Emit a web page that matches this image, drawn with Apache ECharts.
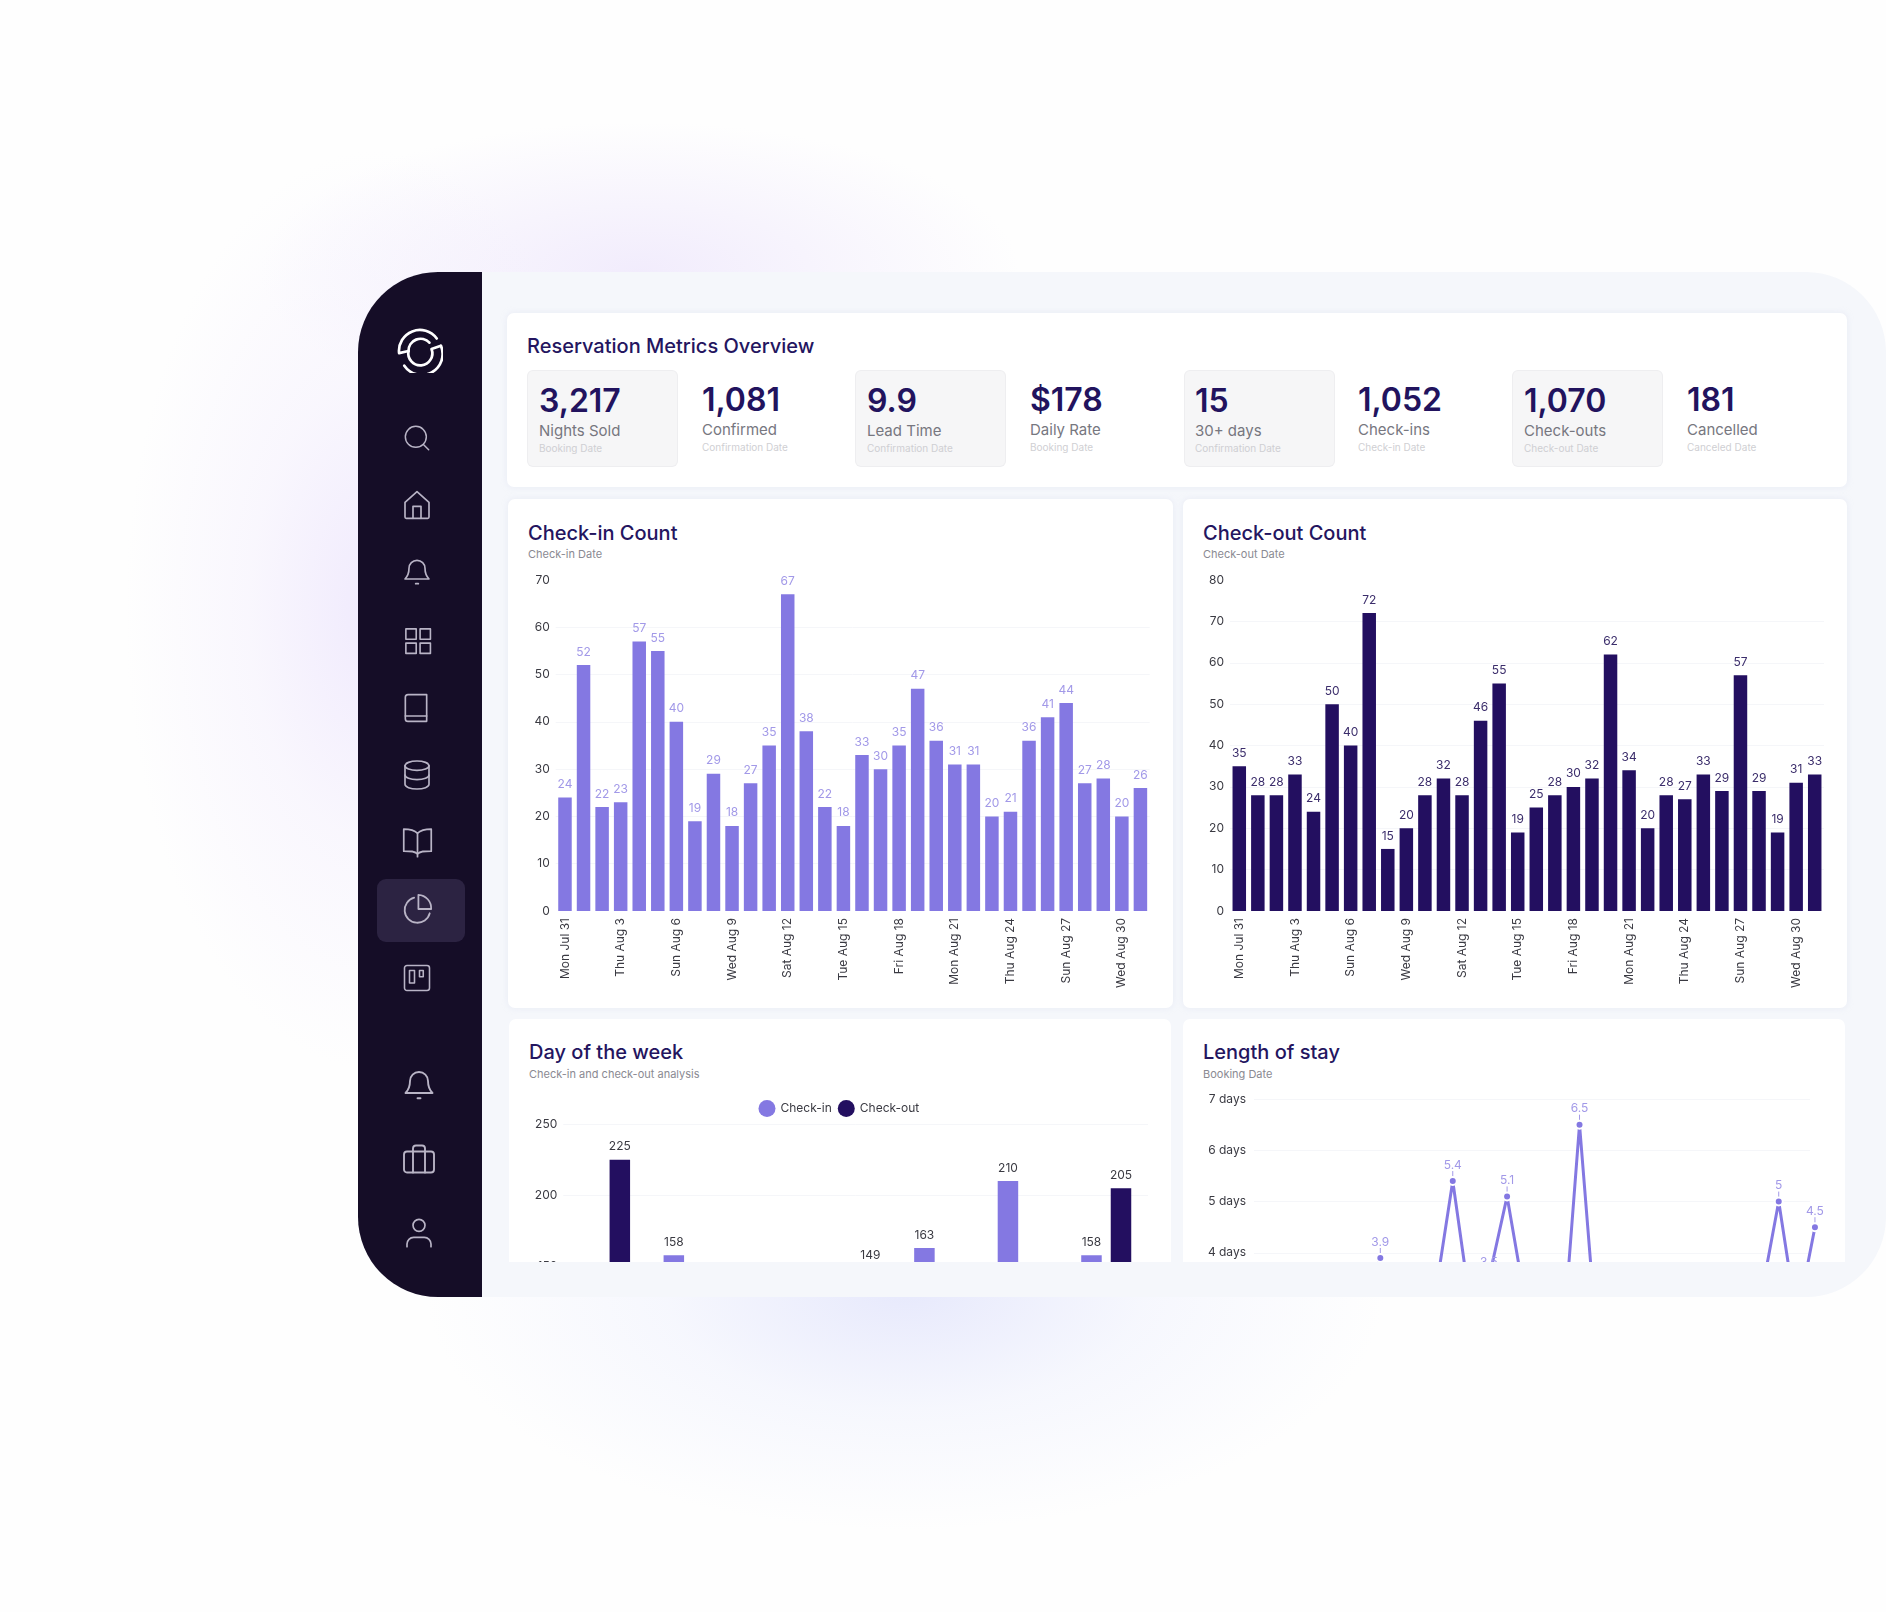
<!DOCTYPE html>
<html lang="en">
<head>
<meta charset="UTF-8">
<title>Reservation Metrics Overview</title>
<script src="https://cdn.jsdelivr.net/npm/echarts@6/dist/echarts.min.js"></script>
<style>
    html, body { margin: 0; padding: 0; }
    body {
        width: 1886px; height: 1612px; position: relative; overflow: hidden;
        font-family: Inter, "Noto Sans", sans-serif;
        background:
            radial-gradient(ellipse 250px 460px at 375px 610px, #f0eafd, rgba(243,238,253,.45) 50%, rgba(243,238,253,0) 100%),
            radial-gradient(ellipse 480px 240px at 905px 1290px, #e7e9fc, rgba(235,238,253,.42) 50%, rgba(235,238,253,0) 100%),
            radial-gradient(ellipse 380px 150px at 640px 272px, rgba(240,234,252,.9), rgba(240,234,252,0) 100%),
            #fefefe;
    }
    .abs { position: absolute; }
    #panel { left: 358px; top: 272px; width: 1528px; height: 1025px; background: #f5f7fb; border-radius: 80px; overflow: hidden; }
    #side { left: 0; top: 0; width: 124px; height: 1026px; background: #150d27; }
    #active { left: 19px; top: 607px; width: 88px; height: 63px; background: #2c2342; border-radius: 9px; }
    .card { background: #fff; border-radius: 7px; box-shadow: 0 0 6px rgba(210,214,235,.35); overflow: hidden; }
    .bottom { border-radius: 7px 7px 0 0; box-shadow: none; }
    .h { color: #241560; font-size: 20px; font-weight: 500; line-height: 24px; white-space: nowrap; }
    .s { color: #8a8a92; font-size: 11px; line-height: 14px; white-space: nowrap; }
    .tile { background: #f6f6f7; border-radius: 5px; box-shadow: 0 0 0 1px #eeeef0; }
    .kv { color: #22135e; font-size: 32px; font-weight: 600; line-height: 38px; white-space: nowrap; }
    .kl { color: #77777f; font-size: 15px; line-height: 18px; white-space: nowrap; }
    .kd { color: #cfcfd3; font-size: 10px; line-height: 12px; white-space: nowrap; }
    svg.ic { position: absolute; fill: none; stroke: #b9b4c6; stroke-width: 1.25; stroke-linecap: round; stroke-linejoin: round; }
</style>
</head>
<body>
<div class="abs" id="panel">
    <div class="abs" id="side"></div>
    <div class="abs" id="active"></div>
</div>
<div id="icons"></div>

<div class="abs card" style="left:507px;top:313px;width:1340px;height:174px"></div>
<div class="abs h" style="left:527px;top:334px">Reservation Metrics Overview</div>
<div id="kpis"></div>

<div class="abs card" style="left:508px;top:499px;width:665px;height:509px"></div>
<div class="abs card" style="left:1183px;top:499px;width:664px;height:509px"></div>
<div class="abs h" style="left:528px;top:521px">Check-in Count</div>
<div class="abs s" style="left:528px;top:547px">Check-in Date</div>
<div class="abs h" style="left:1203px;top:521px">Check-out Count</div>
<div class="abs s" style="left:1203px;top:547px">Check-out Date</div>
<div class="abs" id="chartIn" style="left:508px;top:560px;width:665px;height:448px"></div>
<div class="abs" id="chartOut" style="left:1183px;top:560px;width:664px;height:448px"></div>

<div class="abs card bottom" style="left:509px;top:1019px;width:662px;height:243px">
    <div class="abs" id="chartWeek" style="left:0;top:71px;width:662px;height:500px"></div>
</div>
<div class="abs card bottom" style="left:1183px;top:1019px;width:662px;height:243px">
    <div class="abs" id="chartStay" style="left:0;top:71px;width:662px;height:500px"></div>
</div>
<div class="abs h" style="left:529px;top:1040px">Day of the week</div>
<div class="abs s" style="left:529px;top:1067px">Check-in and check-out analysis</div>
<div class="abs h" style="left:1203px;top:1040px">Length of stay</div>
<div class="abs s" style="left:1203px;top:1067px">Booking Date</div>

<script>
    var kpiValues = ['3,217', '1,081', '9.9', '$178', '15', '1,052', '1,070', '181'];
    var kpiLabels = ['Nights Sold', 'Confirmed', 'Lead Time', 'Daily Rate', '30+ days', 'Check-ins', 'Check-outs', 'Cancelled'];
    var kpiDates = ['Booking Date', 'Confirmation Date', 'Confirmation Date', 'Booking Date', 'Confirmation Date', 'Check-in Date', 'Check-out Date', 'Canceled Date'];

    var days = ['Mon Jul 31', 'Tue Aug 1', 'Wed Aug 2', 'Thu Aug 3', 'Fri Aug 4', 'Sat Aug 5', 'Sun Aug 6', 'Mon Aug 7',
        'Tue Aug 8', 'Wed Aug 9', 'Thu Aug 10', 'Fri Aug 11', 'Sat Aug 12', 'Sun Aug 13', 'Mon Aug 14', 'Tue Aug 15',
        'Wed Aug 16', 'Thu Aug 17', 'Fri Aug 18', 'Sat Aug 19', 'Sun Aug 20', 'Mon Aug 21', 'Tue Aug 22', 'Wed Aug 23',
        'Thu Aug 24', 'Fri Aug 25', 'Sat Aug 26', 'Sun Aug 27', 'Mon Aug 28', 'Tue Aug 29', 'Wed Aug 30', 'Thu Aug 31'];
    var checkIn = [24, 52, 22, 23, 57, 55, 40, 19, 29, 18, 27, 35, 67, 38, 22, 18, 33, 30, 35, 47, 36, 31, 31, 20, 21, 36, 41, 44, 27, 28, 20, 26];
    var checkOut = [35, 28, 28, 33, 24, 50, 40, 72, 15, 20, 28, 32, 28, 46, 55, 19, 25, 28, 30, 32, 62, 34, 20, 28, 27, 33, 29, 57, 29, 19, 31, 33];

    // the lower part of these two charts is cut off by the card, hidden values are estimates
    var weekDays = ['Mon', 'Tue', 'Wed', 'Thu', 'Fri', 'Sat', 'Sun'];
    var weekCheckIn = [120, 158, 125, 118, 163, 210, 158];
    var weekCheckOut = [225, 130, 125, 149, 118, 118, 205];
    var stayValues = [2.8, 2.5, 3.0, 2.6, 2.9, 2.4, 3.1, 3.9, 2.7, 2.9, 3.1, 5.4, 2.9, 3.5, 5.1, 3.05,
        2.6, 1.9, 6.5, 2.1, 2.8, 2.4, 3.0, 2.6, 2.2, 2.9, 2.5, 2.7, 3.1, 5, 2.7, 4.5];

    var LIGHT = '#8478e2', DARK = '#230f60', GRID = '#f5f6f9', TICK = '#3a3a42';

    // KPI tiles
    var kpiX = [539, 702, 867, 1030, 1195, 1358, 1524, 1687];
    var tiles = [[528, 149], [856, 149], [1185, 149], [1513, 149]];
    var html = '';
    tiles.forEach(function (t) {
        html += '<div class="abs tile" style="left:' + t[0] + 'px;top:371px;width:' + t[1] + 'px;height:95px"></div>';
    });
    kpiValues.forEach(function (v, i) {
        var up = i % 2;  // tiles without a box sit one pixel higher
        html += '<div class="abs kv" style="left:' + kpiX[i] + 'px;top:' + (382 - up) + 'px">' + v + '</div>';
        html += '<div class="abs kl" style="left:' + kpiX[i] + 'px;top:' + (422 - up) + 'px">' + kpiLabels[i] + '</div>';
        html += '<div class="abs kd" style="left:' + kpiX[i] + 'px;top:' + (442 - up) + 'px">' + kpiDates[i] + '</div>';
    });
    document.getElementById('kpis').innerHTML = html;

    // sidebar icons, [center x, center y, size, svg body]
    var BELL = '<path d="M3 18h18c-2-2-3-4-3-8a6 6 0 0 0-12 0c0 4-1 6-3 8z"/><path d="M11 21.5h2"/>';
    var icons = [
        [417, 438, 28, '<circle cx="11" cy="11" r="9"/><path d="M17.5 17.5 22 22"/>'],
        [417, 505, 32, '<path d="M12 2 3 10v11a1 1 0 0 0 1 1h16a1 1 0 0 0 1-1V10z"/><path d="M9 22v-9h6v9"/>'],
        [417, 571, 32, BELL],
        [417, 640, 31, '<rect x="3" y="3" width="8" height="8"/><rect x="14" y="3" width="8" height="8"/><rect x="3" y="14" width="8" height="8"/><rect x="14" y="14" width="8" height="8"/>'],
        [416, 708, 32, '<path d="M6 2h14v20H6a2 2 0 0 1-2-2V4a2 2 0 0 1 2-2z"/><path d="M4 18h16"/>'],
        [417, 775, 32, '<ellipse cx="12" cy="5" rx="9" ry="3.500"/><path d="M3 5v14c0 2 4 3.500 9 3.500s9-1.500 9-3.500V5"/><path d="M3 12c0 2 4 3.500 9 3.500s9-1.500 9-3.500"/>'],
        [417, 841, 33, '<path d="M12 6C10 4 7 3 2 3v16c5 0 8 0 10 2 2-2 5-2 10-2V3c-5 0-8 1-10 3z"/><path d="M12 6v17"/>'],
        [417, 909, 34, '<path d="M10 4a9 9 0 1 0 11 11"/><path d="M13 2v10h9a9.500 9.500 0 0 0-9-10z"/>'],
        [417, 978, 30, '<rect x="2" y="2" width="20" height="20" rx="2"/><rect x="6" y="6" width="4" height="10"/><rect x="14" y="6" width="3" height="5"/>'],
        [419, 1084, 36, BELL],
        [419, 1159, 36, '<rect x="2" y="7" width="20" height="14" rx="2"/><path d="M8 21V5a2 2 0 0 1 2-2h4a2 2 0 0 1 2 2v16"/>'],
        [419, 1232, 32, '<circle cx="12" cy="7" r="4.500"/><path d="M3 23v-2a5 5 0 0 1 5-5h8a5 5 0 0 1 5 5v2"/>']
    ];
    var iconHtml = '';
    icons.forEach(function (c) {
        iconHtml += '<svg class="ic" viewBox="0 0 24 24" width="' + c[2] + '" height="' + c[2] +
            '" style="left:' + (c[0] - c[2] / 2) + 'px;top:' + (c[1] - c[2] / 2) + 'px">' + c[3] + '</svg>';
    });
    // logo
    iconHtml += '<svg class="ic" viewBox="0 0 44 44" width="46" height="46" style="left:397px;top:327px;stroke:#fff;stroke-width:2.6">' +
        '<path d="M38 11A20 20 0 0 0 2 25L11 23"/><path d="M42 18 33 21A11.500 11.500 0 1 1 11 23A11.500 11.500 0 0 1 31 15"/>' +
        '<path d="M42 18A20 20 0 0 1 7 37"/></svg>';
    document.getElementById('icons').innerHTML = iconHtml;

    function countOption(values, color, labelColor, max, left, right) {
        return {
            animation: false,
            textStyle: { fontFamily: 'Inter' },
            grid: { left: left, right: right, top: 20, bottom: 97 },
            xAxis: {
                type: 'category',
                data: days,
                axisLine: { show: false },
                axisTick: { show: false },
                axisLabel: { rotate: 90, interval: 2, margin: 7, fontSize: 12, color: TICK }
            },
            yAxis: {
                type: 'value',
                min: 0,
                max: max,
                interval: 10,
                axisLabel: { margin: 6, fontSize: 12, color: TICK },
                splitLine: { showMaxLine: false, showMinLine: false, lineStyle: { color: GRID } }
            },
            series: [{
                type: 'bar',
                data: values,
                barWidth: 13.5,
                itemStyle: { color: color },
                label: { show: true, position: 'top', distance: 7, fontSize: 12, color: labelColor }
            }]
        };
    }

    echarts.init(document.getElementById('chartIn')).setOption(countOption(checkIn, LIGHT, '#a299e8', 70, 47.7, 23.3));
    echarts.init(document.getElementById('chartOut')).setOption(countOption(checkOut, DARK, '#3b2d6b', 80, 47, 23));

    echarts.init(document.getElementById('chartWeek')).setOption({
        animation: false,
        textStyle: { fontFamily: 'Inter' },
        grid: { left: 54.3, top: 34, width: 584.7, height: 356.5 },
        legend: {
            left: 244.5,
            top: 5,
            icon: 'circle',
            itemWidth: 17,
            itemHeight: 17,
            itemGap: 6,
            textStyle: { fontSize: 12, color: TICK }
        },
        xAxis: {
            type: 'category',
            data: weekDays,
            axisLine: { show: false },
            axisTick: { show: false },
            axisLabel: { fontSize: 12, color: TICK }
        },
        yAxis: {
            type: 'value',
            min: 0,
            max: 250,
            interval: 50,
            axisLabel: { margin: 6, fontSize: 12, color: TICK },
            splitLine: { lineStyle: { color: GRID } }
        },
        series: [
            {
                name: 'Check-in', type: 'bar', data: weekCheckIn, barWidth: 20.5, barGap: '44%',
                itemStyle: { color: LIGHT },
                label: { show: true, position: 'top', distance: 7, fontSize: 12, color: TICK }
            },
            {
                name: 'Check-out', type: 'bar', data: weekCheckOut, barWidth: 20.5,
                itemStyle: { color: DARK },
                label: { show: true, position: 'top', distance: 7, fontSize: 12, color: TICK }
            }
        ]
    });

    // first grid only carries the y axis and grid lines, they stop short of the last point
    echarts.init(document.getElementById('chartStay')).setOption({
        animation: false,
        textStyle: { fontFamily: 'Inter' },
        grid: [
            { left: 71, top: 9, width: 556, height: 359 },
            { left: 61.5, top: 9, width: 579.5, height: 359 }
        ],
        xAxis: [
            { type: 'category', gridIndex: 0, data: days, show: false },
            { type: 'category', gridIndex: 1, data: days, show: false }
        ],
        yAxis: [
            {
                type: 'value', gridIndex: 0, min: 0, max: 7, interval: 1,
                axisLabel: { margin: 8, fontSize: 12, color: TICK, formatter: '{value} days' },
                splitLine: { lineStyle: { color: GRID } }
            },
            { type: 'value', gridIndex: 1, min: 0, max: 7, show: false, splitLine: { show: false } }
        ],
        series: [{
            type: 'line',
            xAxisIndex: 1,
            yAxisIndex: 1,
            data: stayValues,
            symbol: 'circle',
            symbolSize: 8,
            lineStyle: { color: LIGHT, width: 3 },
            itemStyle: { color: LIGHT, borderColor: '#fff', borderWidth: 2 },
            label: { show: true, position: 'top', distance: 2, fontSize: 12, color: '#a299e8' },
            labelLine: { show: true, lineStyle: { color: '#a299e8', width: 1 } },
            labelLayout: { dy: -3 }
        }]
    });
</script>
</body>
</html>
